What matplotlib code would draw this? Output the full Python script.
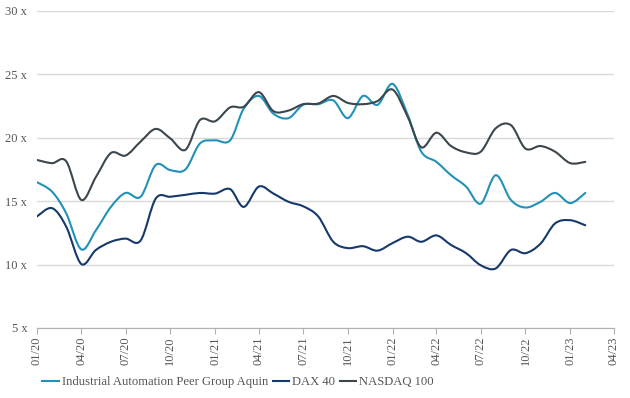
#!/usr/bin/env python3

import numpy as np
import pandas as pd
import matplotlib
matplotlib.use("Agg")
import matplotlib.pyplot as plt
import matplotlib.dates as mdates
from matplotlib.path import Path
from matplotlib.patches import PathPatch
from matplotlib.lines import Line2D

# monthly P/E multiples, 01/2020 .. 02/2023
months = pd.date_range("2020-01-01", "2023-02-01", freq="MS")

industrial = [16.5, 15.75, 14.05, 11.2, 12.7, 14.55, 15.65, 15.35, 17.85, 17.45,
              17.5, 19.55, 19.8, 19.8, 22.3, 23.3, 21.9, 21.55, 22.6, 22.65,
              22.95, 21.55, 23.3, 22.6, 24.25, 21.8, 18.9, 18.1, 17.05, 16.15,
              14.8, 17.05, 15.1, 14.5, 14.95, 15.65, 14.85, 15.65]
dax = [13.8, 14.45, 13.0, 10.05, 11.15, 11.8, 12.05, 11.9, 15.2, 15.35,
       15.5, 15.65, 15.6, 15.95, 14.55, 16.15, 15.6, 14.95, 14.6, 13.8,
       11.8, 11.3, 11.45, 11.1, 11.7, 12.2, 11.8, 12.3, 11.55, 10.9,
       9.95, 9.7, 11.15, 10.9, 11.65, 13.25, 13.5, 13.1]
nasdaq = [18.25, 18.0, 18.15, 15.1, 16.9, 18.8, 18.6, 19.7, 20.7, 19.95,
          19.05, 21.4, 21.3, 22.4, 22.45, 23.6, 22.1, 22.15, 22.65, 22.7,
          23.3, 22.75, 22.65, 22.9, 23.8, 21.65, 19.25, 20.4, 19.35, 18.85,
          18.9, 20.75, 21.0, 19.15, 19.35, 18.9, 18.0, 18.1]

series_names = ["Industrial Automation Peer Group Aquin", "DAX 40", "NASDAQ 100"]
series_colors = ["#2291b8", "#16396b", "#3c464d"]
y_ticks = [5, 10, 15, 20, 25, 30]

TEXT_COLOR = "#555555"
FONT = "Liberation Serif"


def smooth_path(x, y, tension=1 / 6):
    # Catmull-Rom style bezier through the data points
    x = np.asarray(x, dtype=float)
    y = np.asarray(y, dtype=float)
    pts = np.column_stack([x, y])
    verts = [pts[0]]
    codes = [Path.MOVETO]
    n = len(pts)
    for i in range(n - 1):
        p0 = pts[i - 1] if i > 0 else pts[i]
        p1 = pts[i]
        p2 = pts[i + 1]
        p3 = pts[i + 2] if i + 2 < n else pts[i + 1]
        c1 = p1 + (p2 - p0) * tension
        c2 = p2 - (p3 - p1) * tension
        verts += [c1, c2, p2]
        codes += [Path.CURVE4] * 3
    return Path(verts, codes)


def create_plot():
    fig = plt.figure(figsize=(6.3, 3.98), dpi=100)
    ax = fig.add_axes([0.0587, 0.1759, 0.9159, 0.7965])

    xnum = mdates.date2num(months)
    for values, color in zip([industrial, dax, nasdaq], series_colors):
        patch = PathPatch(smooth_path(xnum, values), facecolor="none",
                          edgecolor=color, linewidth=1.5, capstyle="round",
                          joinstyle="round", zorder=3)
        ax.add_patch(patch)

    ax.set_xlim(mdates.date2num(pd.Timestamp("2020-01-01")),
                mdates.date2num(pd.Timestamp("2023-04-01")))
    ax.set_ylim(5, 30)
    ax.set_yticks(y_ticks)
    ax.set_yticklabels([f"{v} x" for v in y_ticks], fontfamily=FONT,
                       fontsize=9, color=TEXT_COLOR)
    ax.grid(axis="y", color="#d9d9d9", linewidth=1)
    ax.set_axisbelow(True)

    ax.xaxis.set_major_locator(mdates.MonthLocator(bymonth=[1, 4, 7, 10]))
    ax.xaxis.set_major_formatter(mdates.DateFormatter("%m/%y"))
    for lbl in ax.get_xticklabels():
        lbl.set_rotation(90)
        lbl.set_fontfamily(FONT)
        lbl.set_fontsize(9)
        lbl.set_color(TEXT_COLOR)

    for side in ["top", "right", "left"]:
        ax.spines[side].set_visible(False)
    ax.spines["bottom"].set_color("#b0b0b0")
    ax.tick_params(axis="x", length=4, color="#b0b0b0", pad=2)
    ax.tick_params(axis="y", length=0, pad=7)

    handles = [Line2D([], [], color=c, linewidth=1.5) for c in series_colors]
    fig.legend(handles, series_names, loc="center", bbox_to_anchor=(0.378, 0.04),
               ncol=3, frameon=False, handlelength=1.3, handletextpad=0.25,
               columnspacing=0.35, prop={"family": FONT, "size": 9.1},
               labelcolor=TEXT_COLOR)

    fig.savefig("out.png", dpi=100)
    plt.close(fig)


if __name__ == "__main__":
    create_plot()
